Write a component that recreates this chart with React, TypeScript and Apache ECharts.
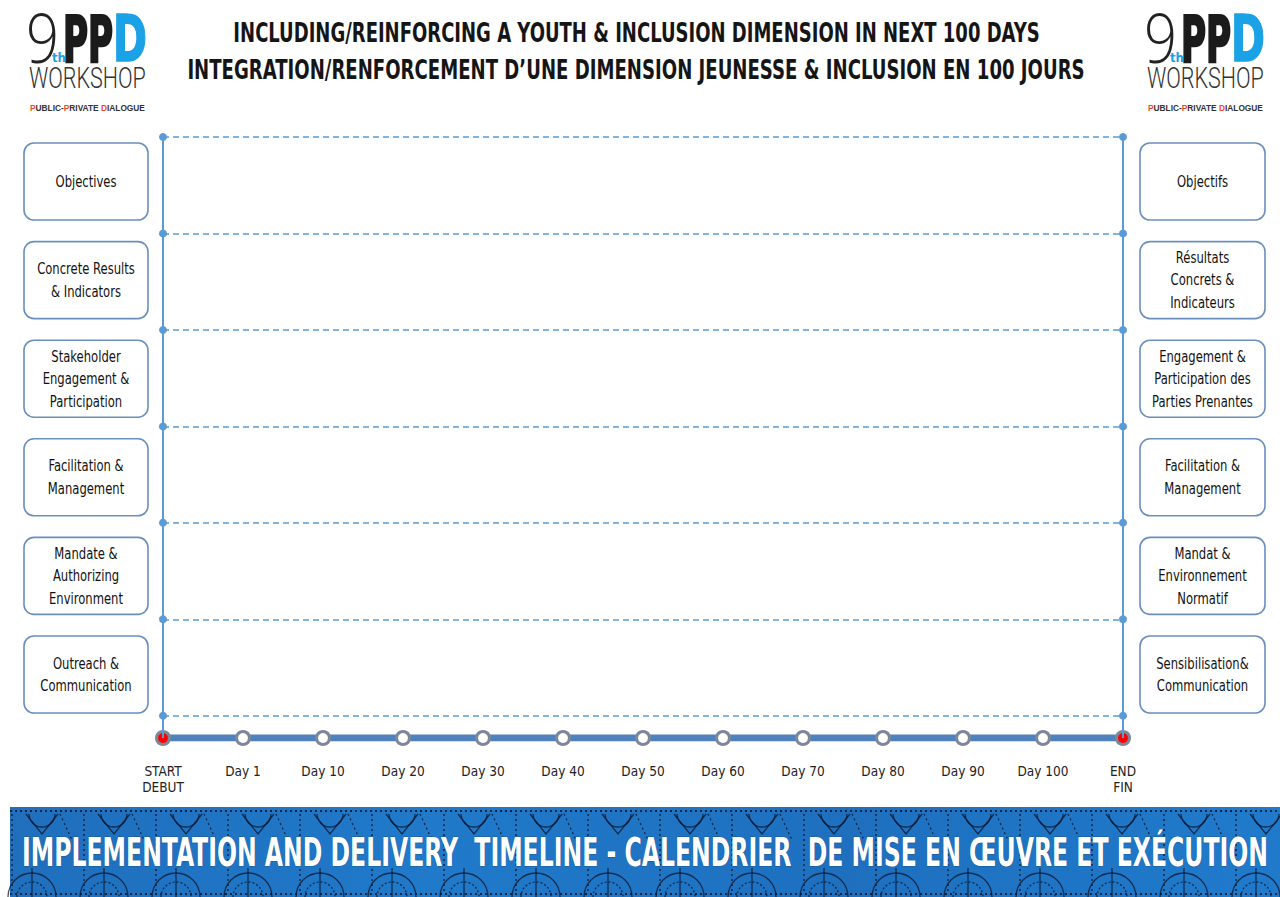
import React, { useEffect, useRef } from 'react';
import * as echarts from 'echarts';

// ---------- data ----------
const TIMELINE_LABELS = ['START\nDEBUT', 'Day 1', 'Day 10', 'Day 20', 'Day 30', 'Day 40', 'Day 50', 'Day 60', 'Day 70', 'Day 80', 'Day 90', 'Day 100', 'END\nFIN'];
const TIMELINE_LEVEL = [-0.23, -0.23, -0.23, -0.23, -0.23, -0.23, -0.23, -0.23, -0.23, -0.23, -0.23, -0.23, -0.23];
const LANE_BOUNDARIES = [0, 1, 2, 3, 4, 5, 6];
const TIMELINE_ENDS = ['START\nDEBUT', 'END\nFIN'];
const LEFT_LABELS = [
  'Objectives',
  'Concrete Results\n& Indicators',
  'Stakeholder\nEngagement &\nParticipation',
  'Facilitation &\nManagement',
  'Mandate &\nAuthorizing\nEnvironment',
  'Outreach &\nCommunication',
];
const RIGHT_LABELS = [
  'Objectifs',
  'Résultats\nConcrets &\nIndicateurs',
  'Engagement &\nParticipation des\nParties Prenantes',
  'Facilitation &\nManagement',
  'Mandat &\nEnvironnement\nNormatif',
  'Sensibilisation&\nCommunication',
];
const TITLE_LINES = [
  'INCLUDING/REINFORCING A YOUTH & INCLUSION DIMENSION IN NEXT 100 DAYS',
  'INTEGRATION/RENFORCEMENT D’UNE DIMENSION JEUNESSE & INCLUSION EN 100 JOURS',
];
const BANNER_TEXT = 'IMPLEMENTATION AND DELIVERY  TIMELINE - CALENDRIER  DE MISE EN ŒUVRE ET EXÉCUTION';

// ---------- helpers ----------
const NARROW = '"Liberation Sans Narrow", "DejaVu Sans Condensed", "Liberation Sans", sans-serif';
const BLUE = '#5b9bd5';
const BOX_BORDER = '#6a8fbf';

let measureCtx: CanvasRenderingContext2D | null = null;
function measure(text: string, font: string): number {
  if (!measureCtx) measureCtx = document.createElement('canvas').getContext('2d');
  measureCtx!.font = font;
  return measureCtx!.measureText(text).width;
}
function fit(text: string, weight: string, size: number, family: string, target: number): number {
  const w = measure(text, `${weight} ${size}px ${family}`);
  return w > 0 ? target / w : 1;
}

function textEl(opts: any) {
  const { x, y, text, size, weight = 'normal', family = NARROW, fill = '#111', align = 'center', vAlign = 'middle', scaleX = 1, scaleY = 1, extra = {} } = opts;
  return {
    type: 'text',
    x,
    y,
    scaleX,
    scaleY,
    silent: true,
    style: {
      text,
      fontSize: size,
      fontWeight: weight,
      fontFamily: family,
      fill,
      align,
      verticalAlign: vAlign,
      textAlign: align,
      textVerticalAlign: vAlign,
      ...extra,
    },
  };
}

function makeLogo(x0: number): any[] {
  const thin = '"Open Sans", "Lato", "DejaVu Sans", sans-serif';
  const els: any[] = [];
  els.push(textEl({ x: x0 - 1, y: 37, text: '9', size: 44, weight: 300, family: thin, fill: '#222', align: 'left', scaleX: fit('9', '300', 44, thin, 33), scaleY: 1.55 }));
  els.push(textEl({ x: x0 + 25, y: 57, text: 'th', size: 13, weight: 'bold', fill: '#1aa1e6', align: 'left' }));
  els.push(textEl({ x: x0 + 36, y: 39, text: 'PP', size: 64, weight: 'bold', fill: '#1b1b1b', align: 'left', scaleX: fit('PP', 'bold', 64, NARROW, 50), extra: { stroke: '#1b1b1b', lineWidth: 2.5, lineHeight: 56 } }));
  els.push(textEl({ x: x0 + 86, y: 39, text: 'D', size: 64, weight: 'bold', fill: '#1aa1e6', align: 'left', scaleX: fit('D', 'bold', 64, NARROW, 34), extra: { stroke: '#1aa1e6', lineWidth: 1.5, lineHeight: 56 } }));
  els.push(textEl({ x: x0 + 2, y: 78, text: 'WORKSHOP', size: 29, weight: 300, family: '"Roboto", "Open Sans", sans-serif', fill: '#333', align: 'left', scaleX: fit('WORKSHOP', '300', 29, '"Roboto", "Open Sans", sans-serif', 117) }));
  const pp = 'PUBLIC-PRIVATE DIALOGUE';
  els.push({
    type: 'text',
    x: x0 + 3,
    y: 108,
    scaleX: fit(pp, 'bold', 9, '"Liberation Sans", sans-serif', 115),
    silent: true,
    style: {
      text: '{r|P}{k|UBLIC-}{r|P}{k|RIVATE }{r|D}{k|IALOGUE}',
      align: 'left',
      verticalAlign: 'middle',
      textAlign: 'left',
      textVerticalAlign: 'middle',
      rich: {
        r: { fill: '#e8492b', fontSize: 9, fontWeight: 'bold', fontFamily: '"Liberation Sans", sans-serif' },
        k: { fill: '#333', fontSize: 9, fontWeight: 'bold', fontFamily: '"Liberation Sans", sans-serif' },
      },
    },
  });
  return els;
}

function makeBoxes(x: number, w: number, labels: string[]): any[] {
  const els: any[] = [];
  labels.forEach((lab, i) => {
    const top = 143 + i * 98.6;
    els.push({
      type: 'rect',
      silent: true,
      shape: { x, y: top, width: w, height: 77, r: 10 },
      style: { fill: '#fff', stroke: BOX_BORDER, lineWidth: 1.6 },
    });
    els.push(textEl({ x: x + w / 2, y: top + 38.5, text: lab, size: 15, fill: '#111', scaleX: 0.86, extra: { lineHeight: 22.5 } }));
  });
  return els;
}

function makeBanner(): any[] {
  const els: any[] = [];
  els.push({
    type: 'rect',
    silent: true,
    shape: { x: 10, y: 807, width: 1270, height: 90 },
    style: {
      fill: new echarts.graphic.LinearGradient(0, 0, 1, 0, [
        { offset: 0, color: '#1f6fbd' },
        { offset: 0.33, color: '#2079c9' },
        { offset: 0.66, color: '#1e70bf' },
        { offset: 1, color: '#207acb' },
      ]),
    },
  });
  const pat = { stroke: 'rgba(8,22,45,0.75)', fill: 'none', lineWidth: 1.3 };
  const dots = { stroke: 'rgba(8,22,45,0.85)', lineWidth: 2, lineDash: [2, 3] };
  els.push({ type: 'line', silent: true, shape: { x1: 10, y1: 811, x2: 1280, y2: 811 }, style: dots });
  els.push({ type: 'line', silent: true, shape: { x1: 10, y1: 894, x2: 1280, y2: 894 }, style: dots });
  for (let xs = 10; xs < 1280; xs += 72) {
    els.push({ type: 'polyline', silent: true, shape: { points: [[xs + 16, 814], [xs + 32, 834], [xs + 48, 814]] }, style: pat });
    els.push({ type: 'arc', silent: true, shape: { cx: xs + 32, cy: 814, r: 13, startAngle: 0, endAngle: Math.PI }, style: pat });
    els.push({ type: 'arc', silent: true, shape: { cx: xs + 22, cy: 897, r: 24, startAngle: Math.PI, endAngle: Math.PI * 2 }, style: pat });
    els.push({ type: 'arc', silent: true, shape: { cx: xs + 22, cy: 897, r: 15, startAngle: Math.PI, endAngle: Math.PI * 2 }, style: { ...pat, lineDash: [2, 2] } });
    els.push({ type: 'line', silent: true, shape: { x1: xs + 22, y1: 868, x2: xs + 22, y2: 897 }, style: pat });
    els.push({ type: 'line', silent: true, shape: { x1: xs + 2, y1: 814, x2: xs + 2, y2: 892 }, style: { ...dots, lineWidth: 1.5 } });
    els.push({ type: 'line', silent: true, shape: { x1: xs + 50, y1: 814, x2: xs + 62, y2: 840 }, style: { ...dots, lineWidth: 1.2 } });
  }
  const bFam = NARROW;
  els.push(textEl({
    x: 645, y: 853, text: BANNER_TEXT, size: 32, weight: 'bold', family: bFam, fill: '#fff',
    scaleX: fit(BANNER_TEXT, 'bold', 32, bFam, 1246), scaleY: 1.2,
    extra: { stroke: 'rgba(10,30,60,0.35)', lineWidth: 1 },
  }));
  return els;
}

export default function App() {
  const ref = useRef<HTMLDivElement>(null);

  useEffect(() => {
    if (!ref.current) return;
    const chart = echarts.init(ref.current, undefined, { renderer: 'svg' });

    const titleEls = [
      textEl({ x: 636.5, y: 33, text: TITLE_LINES[0], size: 25, weight: 'bold', fill: '#151515', scaleX: fit(TITLE_LINES[0], 'bold', 25, NARROW, 807), scaleY: 1.05 }),
      textEl({ x: 636, y: 70, text: TITLE_LINES[1], size: 25, weight: 'bold', fill: '#151515', scaleX: fit(TITLE_LINES[1], 'bold', 25, NARROW, 898), scaleY: 1.05 }),
    ];

    const option: any = {
      animation: false,
      backgroundColor: '#ffffff',
      grid: { left: 163, right: 157, top: 137, bottom: 159 },
      xAxis: {
        type: 'category',
        data: TIMELINE_LABELS,
        boundaryGap: false,
        axisLine: { show: false },
        axisTick: { show: false },
        splitLine: { show: false },
        axisLabel: {
          margin: 25,
          fontSize: 13.5,
          fontFamily: NARROW,
          color: '#222',
          lineHeight: 16,
          interval: 0,
        },
      },
      yAxis: { type: 'value', min: -0.23, max: 6, show: false, splitLine: { show: false } },
      series: [
        {
          type: 'line',
          data: [],
          z: 1,
          silent: true,
          markLine: {
            silent: true,
            symbol: 'none',
            label: { show: false },
            lineStyle: { color: BLUE, width: 2, type: 'solid' },
            data: TIMELINE_ENDS.map((c) => ({ xAxis: c })),
          },
        },
        {
          type: 'line',
          data: [],
          z: 2,
          silent: true,
          markLine: {
            silent: true,
            symbol: ['circle', 'circle'],
            symbolSize: 8,
            label: { show: false },
            itemStyle: { color: BLUE },
            lineStyle: { color: BLUE, width: 1.5, type: [6, 4] },
            data: LANE_BOUNDARIES.map((v) => ({ yAxis: v })),
          },
        },
        {
          type: 'line',
          z: 3,
          silent: true,
          data: TIMELINE_LEVEL.map((v, i) => ({
            value: v,
            itemStyle: i === 0 || i === TIMELINE_LEVEL.length - 1
              ? { color: '#ff0000', borderColor: '#7d8797', borderWidth: 3 }
              : { color: '#ffffff', borderColor: '#7d8797', borderWidth: 3 },
          })),
          symbol: 'circle',
          symbolSize: 13,
          showAllSymbol: true,
          lineStyle: { color: '#4f81bd', width: 7 },
        },
      ],
      graphic: {
        elements: [
          ...titleEls,
          ...makeLogo(27),
          ...makeLogo(1145),
          ...makeBoxes(24, 124, LEFT_LABELS),
          ...makeBoxes(1140, 125, RIGHT_LABELS),
          ...makeBanner(),
        ],
      },
    };

    chart.setOption(option);
    return () => chart.dispose();
  }, []);

  return (
    <div
      ref={ref}
      style={{ position: 'fixed', left: 0, top: 0, width: 1280, height: 897, background: '#fff' }}
    />
  );
}
